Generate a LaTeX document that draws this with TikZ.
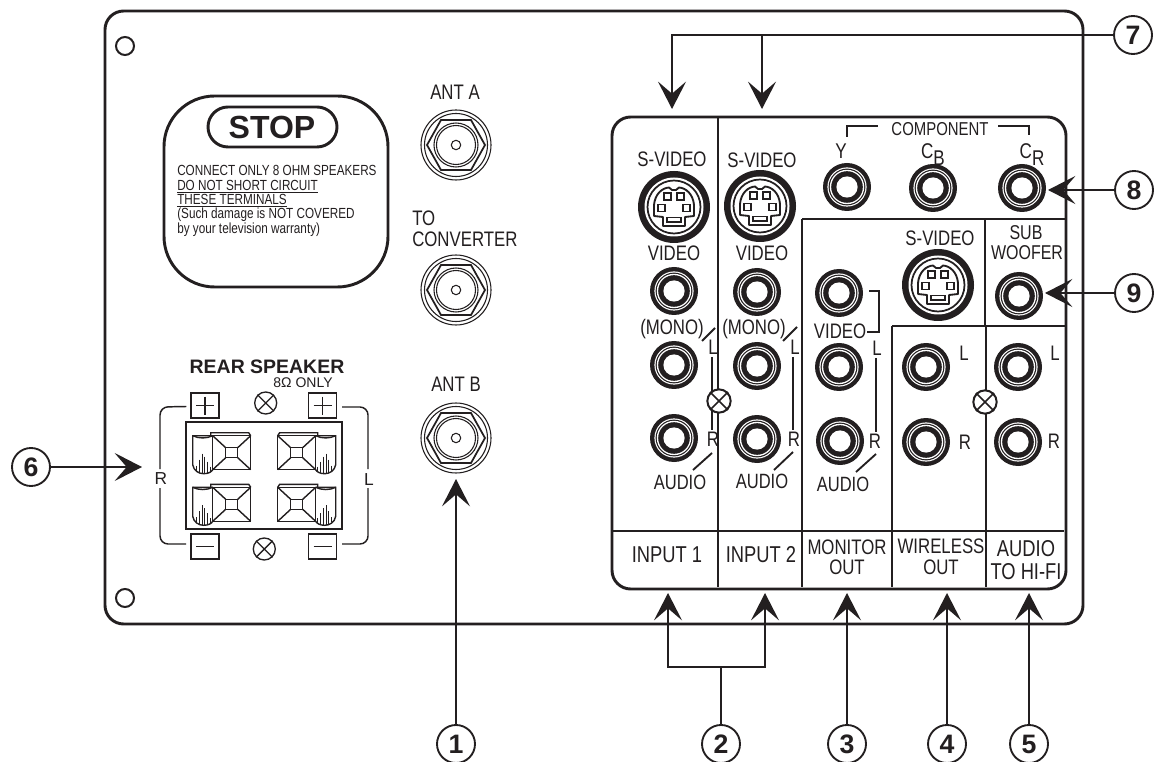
\documentclass[tikz,border=0pt]{standalone}
\usepackage{fontspec}
\setmainfont{Liberation Sans}
\newfontfamily\cond[FakeStretch=0.8]{Liberation Sans}
\usetikzlibrary{arrows.meta}
\definecolor{ink}{HTML}{231F20}
\tikzset{
  x=.75pt,y=-.75pt,
  panel/.style={draw=ink,line width=2.2pt},
  rule/.style={draw=ink,line width=2pt},
  thin rule/.style={draw=ink,line width=1.1pt},
  lbl/.style={inner sep=0pt,text=ink,text height=#1*.716pt,text depth=0pt,font=\cond\fontsize{#1}{#1}\selectfont},
  lbl/.default=15.75,
  plain/.style={inner sep=0pt,text=ink,text height=#1*.716pt,text depth=0pt,font=\fontsize{#1}{#1}\selectfont},
  callout/.style={draw=ink,line width=1.4pt,circle,minimum size=28.5pt,inner sep=0pt,text=ink,font=\bfseries\fontsize{20}{20}\selectfont},
  arrowline/.style={draw=ink,line width=2.1pt,-{Stealth[length=20.5pt,width=21pt,inset=9pt]}},
  feed/.style={draw=ink,line width=2.1pt},
  crossc/.style={draw=ink,line width=1.5pt,fill=white,circle,minimum size=#1,inner sep=0pt},
  box/.style={draw=ink,line width=1.1pt,minimum width=21pt,minimum height=19pt,inner sep=0pt},
}
\newcommand{\rcajack}[3]{%
  \coordinate (#1) at (#2,#3);
  \fill[ink] (#1) circle[radius=24];
  \fill[white] (#1) circle[radius=19.6];
  \fill[ink] (#1) circle[radius=18.4];
  \fill[white] (#1) circle[radius=17.2];
  \fill[ink] (#1) circle[radius=15.8];
  \fill[white] (#1) circle[radius=10.6];
}
\newcommand{\svideo}[3]{%
  \coordinate (#1) at (#2,#3);
  \begin{scope}[shift={(#2,#3)}]
    \fill[ink] (0,0) circle[radius=36];
    \fill[white] (0,0) circle[radius=29.5];
    \draw[ink,line width=1.3pt] (0,0) circle[radius=26.5];
    \draw[ink,line width=1.4pt,line join=round] (-20,-2) .. controls (-19,-13) and (-12,-19) .. (-5,-19.5) -- (-2,-17) -- (2,-17) -- (5,-19.5) .. controls (12,-19) and (19,-13) .. (20,-2) -- (20,9) -- (11,10) -- (11,19) -- (-11,19) -- (-11,10) -- (-20,9) -- cycle;
    \foreach \px/\py in {-6.5/-10.5,6.5/-10.5,-12.5/1,12.5/1}
      \draw[ink,line width=1.3pt] (\px-3.5,\py-3.5) rectangle (\px+3.5,\py+3.5);
    \draw[ink,line width=1.1pt] (-7,10.5) rectangle (7,15);
  \end{scope}
}
\newcommand{\antenna}[3]{%
  \coordinate (#1) at (#2,#3);
  \begin{scope}[shift={(#2,#3)}]
    \draw[ink,line width=.8pt] (0,0) circle[radius=35];
    \draw[ink,line width=.8pt] (0,0) circle[radius=31.5];
    \draw[ink,line width=1.3pt,line join=miter] (-29,0) -- (-15,-25) -- (15,-25) -- (29,0) -- (15,25) -- (-15,25) -- cycle;
    \draw[ink,line width=.8pt] (0,0) circle[radius=22];
    \draw[ink,line width=.8pt] (0,0) circle[radius=19.5];
    \draw[ink,line width=.8pt] (0,0) circle[radius=4.7];
  \end{scope}
}
\newcommand{\terminal}[3]{%
  \begin{scope}[shift={(#1,#2)},xscale=#3,ink,line width=1.05pt]
    \draw (0,0) rectangle (38,34);
    \draw (-2,0) -- (-2,-3) -- (36,-3) -- (38,0);
    \draw (13,12) rectangle (25,22);
    \draw (0,0) -- (13,12) (38,0) -- (25,12) (0,34) -- (13,22) (38,34) -- (25,22);
    \draw (0,0) -- (-20,0) -- (-20,29) .. controls (-19,35) and (-14,38) .. (-9,38) .. controls (-4,38) and (-1,36) .. (0,34);
    \draw (-20,0) .. controls (-14,3) and (-6,3) .. (0,0);
    \draw[line width=.85pt] (-16,30) -- (-16,35) (-13,24) -- (-13,37) (-10.5,18) -- (-10.5,38) (-8,21) -- (-8,38) (-5,26) -- (-5,37) (-2,31) -- (-2,36);
  \end{scope}
}
\begin{document}
\begin{tikzpicture}
\useasboundingbox (0,0) rectangle (1155,762);
\fill[white] (0,0) rectangle (1155,762);
% outer plate
\draw[panel,rounded corners=14pt] (105,11) rectangle (1083,624);
\draw[ink,line width=1.5pt] (125,46) circle[radius=9];
\draw[ink,line width=1.5pt] (125,598) circle[radius=9];
% stop label
\draw[panel,rounded corners=38pt] (164,96) rectangle (388,287);
\draw[panel,rounded corners=15pt] (208,107) rectangle (337,147);
\node[inner sep=0pt,text=ink,font=\bfseries\fontsize{24}{24}\selectfont] (stop) at (272,127) {STOP};
\node[lbl=11,anchor=west] (s1) at (177,170) {CONNECT ONLY 8 OHM SPEAKERS};
\node[lbl=11,anchor=west] (s2) at (177,185) {\underline{DO NOT SHORT CIRCUIT}};
\node[lbl=11,anchor=west] (s3) at (177,199) {\underline{THESE TERMINALS}};
\node[lbl=11,anchor=west] (s4) at (177,213) {(Such damage is NOT COVERED};
\node[lbl=11,anchor=west] (s5) at (177,228) {by your television warranty)};
% antennas
\node[lbl] (anta) at (455,92) {ANT A};
\antenna{ja}{456}{145}
\node[lbl,anchor=west] (to) at (412,218) {TO};
\node[lbl,anchor=west] (conv) at (412,239) {CONVERTER};
\antenna{jc}{456}{290}
\node[lbl] (antb) at (456,384) {ANT B};
\antenna{jb}{456}{438}
% rear speaker
\node[inner sep=0pt,text=ink,font=\bfseries\fontsize{14.6}{15}\selectfont] (rear) at (267,367) {REAR SPEAKER};
\node[inner sep=0pt,text=ink,font=\fontsize{10.5}{11}\selectfont] (eight) at (303,383) {8Ω ONLY};
\draw[ink,line width=1.2pt] (186,422) rectangle (342,529);
\node[box] (p1) at (205,405.5) {}; \draw[thin rule] (196,405.5) -- (214,405.5) (205,396.5) -- (205,414.5);
\node[box] (p2) at (322.5,405.5) {}; \draw[thin rule] (313.5,405.5) -- (331.5,405.5) (322.5,396.5) -- (322.5,414.5);
\node[box] (m1) at (205,546.5) {}; \draw[thin rule] (196,546.5) -- (214,546.5);
\node[box] (m2) at (322.5,546.5) {}; \draw[thin rule] (313.5,546.5) -- (331.5,546.5);
\foreach \nm/\cx/\cy in {xa/265.7/403,xb/264.3/549}{
  \node[crossc=16.5pt,line width=1pt] (\nm) at (\cx,\cy) {};
  \draw[ink,line width=1pt] (\nm.north west) -- (\nm.south east) (\nm.north east) -- (\nm.south west);
}
\terminal{212.7}{435.7}{1}
\terminal{212.7}{487.3}{1}
\terminal{315.7}{435.7}{-1}
\terminal{315.7}{487.3}{-1}
\node[plain=13] (rr) at (161,478) {R};
\node[plain=13] (rl) at (369,479) {L};
\draw[thin rule,rounded corners=6pt] (p1.west) ++(-4,1) -- (160,407) -- (160,469);
\draw[thin rule,rounded corners=6pt] (160,488) -- (160,544) -- (186,544);
\draw[thin rule,rounded corners=6pt] (342,407) -- (368,407) -- (368,469);
\draw[thin rule,rounded corners=6pt] (368,488) -- (368,544) -- (342,544);
% connector panel
\draw[panel,rounded corners=14pt] (612,117) rectangle (1066,589);
\draw[rule] (718,117) -- (718,587);
\draw[rule] (802,219) -- (802,587);
\draw[rule] (802,219) -- (1066,219);
\draw[rule] (985,219) -- (985,326);
\draw[rule] (892,326) -- (1066,326);
\draw[rule] (892,326) -- (892,587);
\draw[rule] (986,326) -- (986,587);
\draw[rule] (612,531) -- (1064,531);
% jacks
\svideo{sv1}{674}{207}
\svideo{sv2}{760}{206}
\svideo{sv3}{938}{285}
\rcajack{a1}{674}{291}\rcajack{a2}{674}{365}\rcajack{a3}{674}{438}
\rcajack{b1}{757}{292}\rcajack{b2}{757}{366}\rcajack{b3}{757}{439}
\rcajack{c1}{839}{293}\rcajack{c2}{839}{367}\rcajack{c3}{840}{441}
\rcajack{d1}{847}{187}\rcajack{d2}{933}{188}\rcajack{d3}{1022}{188}
\rcajack{e1}{1019}{296}
\rcajack{f1}{926}{367}\rcajack{f2}{926}{442}
\rcajack{g1}{1018}{367}\rcajack{g2}{1018}{442}
% brackets and slashes
\draw[thin rule,line width=1.4pt] (712,357) -- (712,430) (793,357) -- (793,430) (876,358) -- (876,432);
\draw[thin rule,line width=1.4pt] (702,341) -- (715,328) (783,341) -- (797,327);
\draw[thin rule,line width=1.4pt] (693,470) -- (712,453) (774,470) -- (793,452) (856,472) -- (876,454);
\draw[thin rule,line width=1.4pt] (869,291) -- (879,291) -- (879,332) -- (867,332);
\draw[thin rule,line width=1.4pt] (847,137) -- (847,126) -- (878,126);
\draw[thin rule,line width=1.4pt] (998,126) -- (1029,126) -- (1029,135);
\foreach \nm/\cx/\cy in {xc/719/401,xd/985/402}{
  \node[crossc=17.5pt] (\nm) at (\cx,\cy) {};
  \draw[ink,line width=1.3pt] (\nm.north west) -- (\nm.south east) (\nm.north east) -- (\nm.south west);
}
% labels
\node[lbl] (l1) at (672,159) {S-VIDEO};
\node[lbl] (l2) at (762,160) {S-VIDEO};
\node[lbl] (l3) at (940,238) {S-VIDEO};
\node[lbl] (l4) at (674,253) {VIDEO};
\node[lbl] (l5) at (762,253) {VIDEO};
\node[lbl] (l6) at (840,331) {VIDEO};
\node[lbl] (l7) at (672,327) {(MONO)};
\node[lbl] (l8) at (754,327) {(MONO)};
\node[lbl=14] (l9) at (940,129) {COMPONENT};
\node[lbl=16] (l10) at (841,151) {Y};
\node[lbl=16] (l11) at (933,151) {C\raisebox{-5pt}{B}};
\node[lbl=16] (l12) at (1032,151) {C\raisebox{-5pt}{R}};
\node[lbl=15] (l13) at (1026,232) {SUB};
\node[lbl=15] (l14) at (1027,252) {WOOFER};
\foreach \nm/\cx/\cy/\tx in {q1/713/347/L,q2/795/347/L,q3/877/348/L,q4/964/353/L,q5/1055/353/L,q6/713/439/R,q7/794/439/R,q8/875/441/R,q9/965/442/R,q10/1054/441/R}
  \node[lbl] (\nm) at (\cx,\cy) {\tx};
\node[lbl=15.5] (a11) at (680,482) {AUDIO};
\node[lbl=15.5] (a12) at (762,481) {AUDIO};
\node[lbl=15.5] (a13) at (843,484) {AUDIO};
\node[lbl=17.2] (n1) at (667,554) {INPUT 1};
\node[lbl=17.2] (n2) at (761,554) {INPUT 2};
\node[lbl] (n3) at (847,547) {MONITOR};
\node[lbl] (n4) at (847,567) {OUT};
\node[lbl] (n5) at (941,546) {WIRELESS};
\node[lbl] (n6) at (941,567) {OUT};
\node[lbl=17.2] (n7) at (1026,548) {AUDIO};
\node[lbl=17.2] (n8) at (1026,571) {TO HI-FI};
% callouts
\node[callout] (c1) at (456,744) {1};
\node[callout] (c2) at (721,744) {2};
\node[callout] (c3) at (847,744) {3};
\node[callout] (c4) at (947,744) {4};
\node[callout] (c5) at (1029,744) {5};
\node[callout] (c6) at (31,467) {6};
\node[callout] (c7) at (1133,35) {7};
\node[callout] (c8) at (1134,190) {8};
\node[callout] (c9) at (1134,293) {9};
\coordinate (t1) at (456,479);
\coordinate (t2a) at (668,593);
\coordinate (t2b) at (765,593);
\coordinate (j2) at (721,667);
\coordinate (t3) at (847,593);
\coordinate (t4) at (947,593);
\coordinate (t5) at (1029,593);
\coordinate (t6) at (142,467);
\coordinate (t7a) at (672,109);
\coordinate (t7b) at (762,109);
\coordinate (t8) at (1048,190);
\coordinate (t9) at (1045,293);
\draw[arrowline] (c1) -- (t1);
\draw[feed] (c2) -- (j2);
\draw[arrowline] (j2) -| (t2a);
\draw[arrowline] (j2) -| (t2b);
\draw[arrowline] (c3) -- (t3);
\draw[arrowline] (c4) -- (t4);
\draw[arrowline] (c5) -- (t5);
\draw[arrowline] (c6) -- (t6);
\draw[arrowline] (c7) -| (t7a);
\draw[arrowline] (c7) -| (t7b);
\draw[arrowline] (c8) -- (t8);
\draw[arrowline] (c9) -- (t9);
\end{tikzpicture}
\end{document}
